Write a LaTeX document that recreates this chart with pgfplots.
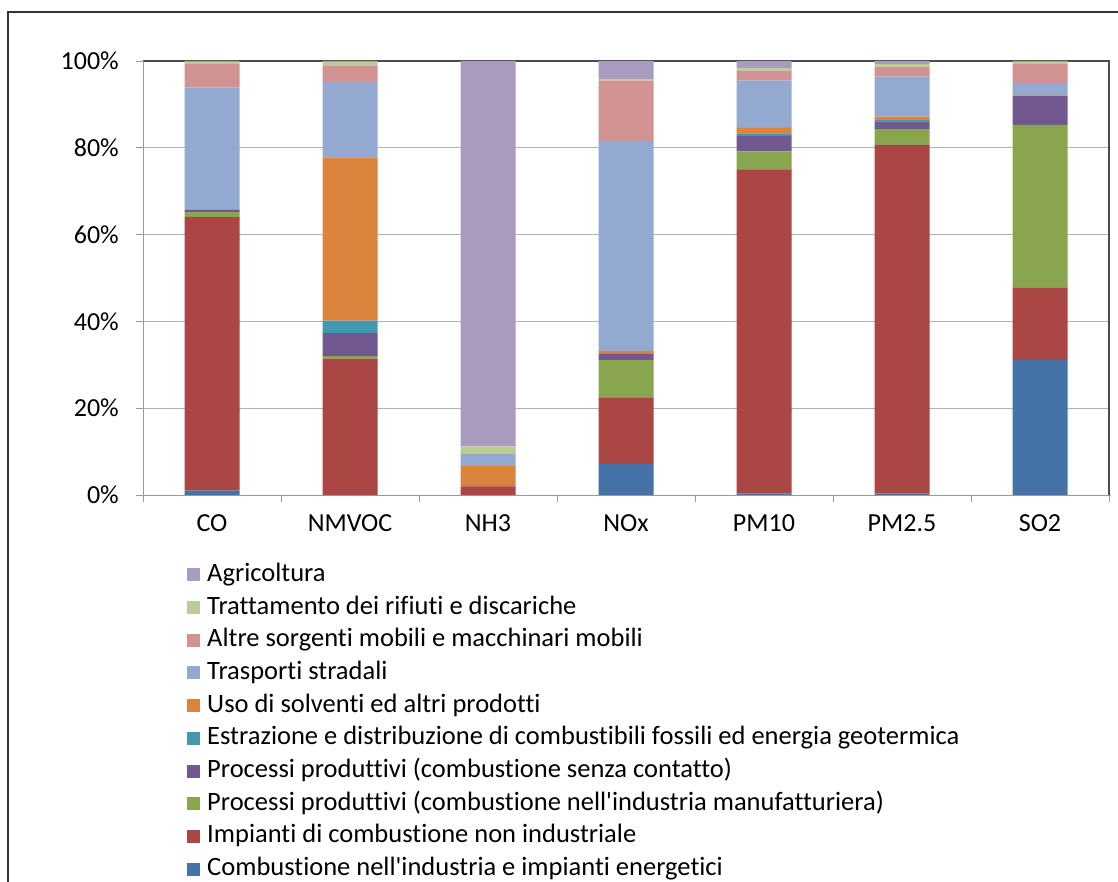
\documentclass[border=0pt]{standalone}
\usepackage{fontspec}
\setmainfont{Carlito}[Ligatures={NoCommon}]
\usepackage{pgfplots}
\pgfplotsset{compat=1.18}
\usepackage{pgfplotstable}

\definecolor{cBlue}{HTML}{4572A7}
\definecolor{cRed}{HTML}{AA4643}
\definecolor{cGreen}{HTML}{89A54E}
\definecolor{cPurple}{HTML}{71588F}
\definecolor{cTeal}{HTML}{4198AF}
\definecolor{cOrange}{HTML}{DB843D}
\definecolor{cLBlue}{HTML}{93A9CF}
\definecolor{cPink}{HTML}{D19392}
\definecolor{cLGreen}{HTML}{B9CD96}
\definecolor{cLav}{HTML}{A99BBD}

\pgfplotstableread{
x comb impi manuf senza estr solv trasp altre rifiuti agri
0 1.0 63.1 1.1 0.5 0.0 0.0 28.2 5.4 0.6 0.1
1 0.0 31.4 0.6 5.3 2.9 37.6 17.4 3.8 0.9 0.1
2 0.0 2.0 0.0 0.2 0.0 4.5 2.8 0.0 1.7 88.8
3 7.1 15.4 8.6 1.5 0.1 0.5 48.4 13.9 0.3 4.2
4 0.3 74.7 4.2 3.5 0.6 1.3 10.9 2.3 0.6 1.6
5 0.3 80.4 3.6 1.8 0.3 0.8 9.2 2.3 0.6 0.7
6 31.1 16.6 37.6 6.6 0.1 0.2 2.7 4.4 0.6 0.1
}\datatable

\begin{document}
\begin{tikzpicture}[x=1pt,y=1pt]
\useasboundingbox (0,0) rectangle (1118,882);
\draw[line width=2pt, black!80] (8,-10) -- (8,869.5) -- (1130,869.5);
\begin{axis}[
  at={(143pt,387pt)}, anchor=south west,
  scale only axis, width=966pt, height=434pt,
  ybar stacked, bar width=55pt,
  xmin=-0.5, xmax=6.5, ymin=0, ymax=100,
  xtick={0,...,6},
  xticklabels={CO,NMVOC,NH3,NOx,PM10,PM2.5,SO2},
  minor xtick={-0.5,0.5,...,6.5},
  ytick={0,20,...,100},
  yticklabel={\pgfmathprintnumber{\tick}\%},
  /pgf/number format/assume math mode=true,
  tick align=outside, tick pos=left,
  major tick length=7pt, minor tick length=7pt,
  major x tick style={draw=none},
  minor x tick style={draw=black!40, line width=0.8pt},
  y tick style={draw=black!40, line width=0.8pt},
  ymajorgrids, grid style={black!30, line width=0.9pt},
  axis line style={draw=none},
  ticklabel style={font=\fontsize{26}{30}\selectfont, inner sep=0pt},
  yticklabel style={anchor=east, xshift=-17pt},
  xticklabel style={anchor=north, text height=16.4pt, yshift=-13pt},
  legend cell align=left,
  reverse legend,
  legend style={at={(0.0456,-0.157)}, anchor=north west, draw=none, fill=none,
    inner sep=0pt, column sep=7pt, row sep=8.7pt,
    nodes={inner sep=0pt, text height=18pt, text depth=6pt},
    font=\fontsize{26.5}{30}\selectfont},
  legend image code/.code={\path[#1] (0pt,-6pt) rectangle (13pt,7pt);},
  clip=false,
]
\addplot[fill=cBlue, draw=none] table[x=x,y=comb]{\datatable};
\addlegendentry{Combustione nell\textquotesingle industria e impianti energetici}
\addplot[fill=cRed, draw=none] table[x=x,y=impi]{\datatable};
\addlegendentry{Impianti di combustione non industriale}
\addplot[fill=cGreen, draw=none] table[x=x,y=manuf]{\datatable};
\addlegendentry{Processi produttivi (combustione nell\textquotesingle industria manufatturiera)}
\addplot[fill=cPurple, draw=none] table[x=x,y=senza]{\datatable};
\addlegendentry{Processi produttivi (combustione senza contatto)}
\addplot[fill=cTeal, draw=none] table[x=x,y=estr]{\datatable};
\addlegendentry{Estrazione e distribuzione di combustibili fossili ed energia geotermica}
\addplot[fill=cOrange, draw=none] table[x=x,y=solv]{\datatable};
\addlegendentry{Uso di solventi ed altri prodotti}
\addplot[fill=cLBlue, draw=none] table[x=x,y=trasp]{\datatable};
\addlegendentry{Trasporti stradali}
\addplot[fill=cPink, draw=none] table[x=x,y=altre]{\datatable};
\addlegendentry{Altre sorgenti mobili e macchinari mobili}
\addplot[fill=cLGreen, draw=none] table[x=x,y=rifiuti]{\datatable};
\addlegendentry{Trattamento dei rifiuti e discariche}
\addplot[fill=cLav, draw=none] table[x=x,y=agri]{\datatable};
\addlegendentry{Agricoltura}
\draw[black!40, line width=0.9pt] (rel axis cs:0,1) -- (rel axis cs:0,0) -- ([xshift=2pt]rel axis cs:1,0);
\draw[black!70, line width=1.2pt] (rel axis cs:0,1) -- (rel axis cs:1,1) -- (rel axis cs:1,0);
\end{axis}
\end{tikzpicture}
\end{document}
